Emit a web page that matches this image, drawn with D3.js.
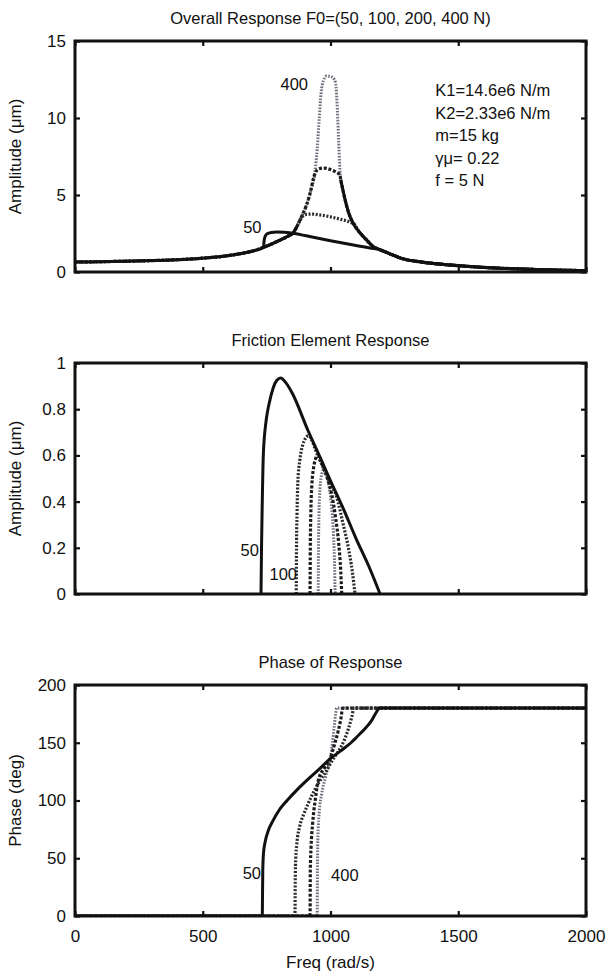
<!DOCTYPE html>
<html>
<head>
<meta charset="utf-8">
<script src="https://cdn.jsdelivr.net/npm/d3@7"></script>
<style>
  html, body { margin: 0; padding: 0; background: #fff; }
  svg { display: block; }
  text { font-family: "Liberation Sans", Arial, sans-serif; fill: #111; }
</style>
</head>
<body>
<svg id="chart" width="610" height="973"></svg>
<script>
// ---- data: frequency (rad/s) vs response for F0 = 50, 100, 200, 400 N ----
const forces = [50, 100, 200, 400];
const xTicks = [0, 500, 1000, 1500, 2000];
const ampTicks = [0, 5, 10, 15];
const fricTicks = [0, 0.2, 0.4, 0.6, 0.8, 1];
const phaseTicks = [0, 50, 100, 150, 200];
const paramLines = ["K1=14.6e6 N/m", "K2=2.33e6 N/m", "m=15 kg", "\u03b3\u03bc= 0.22", "f = 5 N"];

// overall amplitude (um): segments shared by the stuck (linear) branch
const ampLow  = [[0,0.65],[100,0.67],[200,0.7],[300,0.74],[400,0.8],[500,0.9],[580,1.02],[650,1.2],[700,1.38],[738,1.6]];
const ampRise = [[760,1.75],[800,2.05],[830,2.3],[854,2.55],[870,3.0]];
const ampFall = [[1040,6.0],[1045,5.6],[1057,4.7],[1070,3.9],[1089,3.16],[1110,2.65],[1140,2.1],[1168,1.64]];
const ampTail = [[1190,1.47],[1230,1.2],[1285,0.85],[1350,0.66],[1470,0.45],[1600,0.3],[1750,0.19],[1900,0.12],[2000,0.09]];
// overall amplitude: slipping segments per force level
const ampMid50  = [[740,2.0],[744,2.3],[752,2.48],[768,2.57],[790,2.6],[820,2.58],[860,2.5],[900,2.37],[1000,2.03],[1100,1.72],[1170,1.52]];
const ampMid100 = [[880,3.35],[890,3.6],[905,3.74],[930,3.76],[960,3.7],[1000,3.58],[1040,3.42],[1070,3.28],[1085,3.18]];
const ampMid200 = [[887,3.6],[905,4.3],[920,5.1],[932,6.0],[942,6.5],[955,6.7],[975,6.75],[1000,6.65],[1020,6.5],[1037,6.3]];
const ampMid400 = [[887,3.6],[905,4.3],[920,5.1],[939,6.5],[948,8.0],[956,10.0],[963,11.6],[972,12.4],[985,12.72],[1000,12.7],[1015,12.5],[1022,12.0],[1027,10.5],[1032,8.5],[1037,6.6]];

// friction element amplitude (um)
const fric50  = [[728,0],[730,0.2],[733,0.4],[737,0.6],[748,0.75],[759,0.82],[775,0.89],[790,0.925],[805,0.935],[825,0.915],[850,0.87],[911,0.71],[960,0.59],[1000,0.49],[1050,0.37],[1100,0.24],[1150,0.12],[1194,0]];
const fric100 = [[866,0],[867,0.2],[869,0.35],[872,0.48],[880,0.58],[890,0.64],[900,0.67],[913,0.685],[950,0.6],[990,0.5],[1024,0.42],[1050,0.3],[1070,0.2],[1085,0.1],[1096,0]];
const fric200 = [[920,0],[921,0.2],[923,0.35],[927,0.47],[933,0.54],[940,0.58],[950,0.6],[960,0.58],[985,0.51],[1005,0.43],[1020,0.33],[1032,0.22],[1040,0.1],[1044,0]];
const fric400 = [[952,0],[953,0.2],[955,0.35],[959,0.46],[966,0.52],[975,0.54],[985,0.52],[995,0.46],[1005,0.37],[1012,0.25],[1016,0.12],[1018,0]];

// phase (deg)
const phase50  = [[0,0],[733,0],[734,20],[735,40],[738,55],[745,65],[755,73],[776,83],[800,92],[830,100],[868,109],[920,120],[960,128],[998,136],[1040,143],[1080,150],[1103,155],[1130,161],[1160,169],[1181,177],[1192,180],[2000,180]];
const phase100 = [[0,0],[861,0],[862,30],[864,50],[868,62],[880,78],[895,88],[910,96],[940,110],[970,121],[985,126],[1000,132],[1020,139],[1040,146],[1055,153],[1070,162],[1083,172],[1092,180],[2000,180]];
const phase200 = [[0,0],[920,0],[921,40],[924,60],[930,80],[940,100],[952,117],[975,128],[998,136],[1015,148],[1030,160],[1040,170],[1048,180],[2000,180]];
const phase400 = [[0,0],[948,0],[949,40],[951,70],[956,90],[965,105],[980,120],[998,136],[1008,150],[1015,165],[1020,175],[1024,180],[2000,180]];

// ---- layout ----
const svg = d3.select("#chart");
const left = 75, right = 586, plotH = 231;
const x = d3.scaleLinear().domain([0, 2000]).range([left, right]);

// line styles per force level
const styles = {
  50:  { stroke: "#111", width: 3, dash: null },
  100: { stroke: "#2b2b2b", width: 3.2, dash: "2,1.6" },
  200: { stroke: "#1c1c1c", width: 3.2, dash: "3,1.8" },
  400: { stroke: "#6e727c", width: 3, dash: "1.6,1.4" }
};

function panel(cfg) {
  const y = d3.scaleLinear().domain(cfg.domain).range([cfg.top + plotH, cfg.top]);
  const g = svg.append("g");

  // title
  g.append("text").attr("x", (left + right) / 2).attr("y", cfg.top - 17)
    .attr("text-anchor", "middle").attr("font-size", 16.5).text(cfg.title);

  // y label
  g.append("text")
    .attr("transform", `translate(21,${cfg.top + plotH / 2}) rotate(-90)`)
    .attr("text-anchor", "middle").attr("font-size", 17).text(cfg.ylabel);

  // curves (heaviest force first so the solid traces sit on top)
  const lineGen = d3.line().x(d => x(d[0])).y(d => y(d[1])).curve(d3.curveMonotoneX);
  const clipId = "clip" + cfg.top;
  g.append("clipPath").attr("id", clipId).append("rect")
    .attr("x", left).attr("y", cfg.top - 2).attr("width", right - left).attr("height", plotH + 2);
  const cg = g.append("g").attr("clip-path", `url(#${clipId})`);
  const draw = (pts, s) => cg.append("path").datum(pts)
    .attr("fill", "none").attr("stroke", s.stroke).attr("stroke-width", s.width)
    .attr("stroke-dasharray", s.dash).attr("stroke-linejoin", "round")
    .attr("d", lineGen);
  [400, 200, 100].forEach(f => draw(cfg.series[f], styles[f]));
  (cfg.common || []).forEach(pts => draw(pts, styles[50]));
  draw(cfg.series[50], styles[50]);

  // axes with inward ticks on all four sides
  const yl = g.append("g").attr("transform", `translate(${left},0)`)
    .call(d3.axisLeft(y).tickValues(cfg.ticks).tickSize(-5).tickPadding(9).tickFormat(d3.format("")));
  const yr = g.append("g").attr("transform", `translate(${right},0)`)
    .call(d3.axisRight(y).tickValues(cfg.ticks).tickSize(-5).tickFormat(""));
  const xb = g.append("g").attr("transform", `translate(0,${cfg.top + plotH})`)
    .call(d3.axisBottom(x).tickValues(xTicks).tickSize(-5).tickPadding(14).tickFormat(cfg.xlabels ? d3.format("") : ""));
  const xt = g.append("g").attr("transform", `translate(0,${cfg.top})`)
    .call(d3.axisTop(x).tickValues(xTicks).tickSize(-5).tickFormat(""));
  [yl, yr, xb, xt].forEach(a => {
    a.select(".domain").remove();
    a.selectAll(".tick line").attr("stroke", "#111").attr("stroke-width", 2.2);
    a.selectAll(".tick text").attr("font-size", 17).attr("fill", "#111")
      .attr("font-family", "'Liberation Sans', Arial, sans-serif");
  });

  // frame
  g.append("rect").attr("x", left).attr("y", cfg.top)
    .attr("width", right - left).attr("height", plotH)
    .attr("fill", "none").attr("stroke", "#111").attr("stroke-width", 3);

  // curve labels
  (cfg.labels || []).forEach(l => {
    g.append("text").attr("x", l.x).attr("y", y(l.v)).attr("dy", "0.35em")
      .attr("text-anchor", "end").attr("font-size", 16.5).text(l.t);
  });
  return { g, y };
}

// overall response
const overall = panel({
  top: 41, domain: [0, 15], ticks: ampTicks,
  title: "Overall Response F0=(50, 100, 200, 400 N)",
  ylabel: "Amplitude (\u03bcm)",
  series: {
    50:  ampLow.concat(ampMid50, ampTail),
    100: ampLow.concat(ampRise, ampMid100, ampFall.filter(d => d[0] > 1085), ampTail),
    200: ampLow.concat(ampRise, ampMid200, ampFall, ampTail),
    400: ampLow.concat(ampRise, ampMid400, ampFall, ampTail)
  },
  // stuck branch shared by the higher force levels
  common: [ampLow.slice(-1).concat(ampRise), ampFall.concat(ampTail)],
  labels: [
    { t: String(forces[3]), x: x(912), v: 12.2 },
    { t: String(forces[0]), x: x(730), v: 2.9 }
  ]
});
// parameter annotation
overall.g.append("text").attr("x", x(1410)).attr("font-size", 16.5)
  .selectAll("tspan").data(paramLines).join("tspan")
  .attr("x", x(1410)).attr("y", (d, i) => overall.y(11.75) + 5 + i * 22.6).text(d => d);

// friction element response
panel({
  top: 363, domain: [0, 1], ticks: fricTicks,
  title: "Friction Element Response",
  ylabel: "Amplitude (\u03bcm)",
  series: { 50: fric50, 100: fric100, 200: fric200, 400: fric400 },
  labels: [
    { t: String(forces[0]), x: x(720), v: 0.19 },
    { t: String(forces[1]), x: x(869), v: 0.085 }
  ]
});

// phase of response
panel({
  top: 685, domain: [0, 200], ticks: phaseTicks,
  title: "Phase of Response",
  ylabel: "Phase (deg)",
  xlabels: true,
  series: { 50: phase50, 100: phase100, 200: phase200, 400: phase400 },
  labels: [
    { t: String(forces[0]), x: x(728), v: 37 },
    { t: String(forces[3]), x: x(1110), v: 35 }
  ]
});

// x axis title
svg.append("text").attr("x", (left + right) / 2).attr("y", 968)
  .attr("text-anchor", "middle").attr("font-size", 17).text("Freq (rad/s)");
</script>
</body>
</html>
